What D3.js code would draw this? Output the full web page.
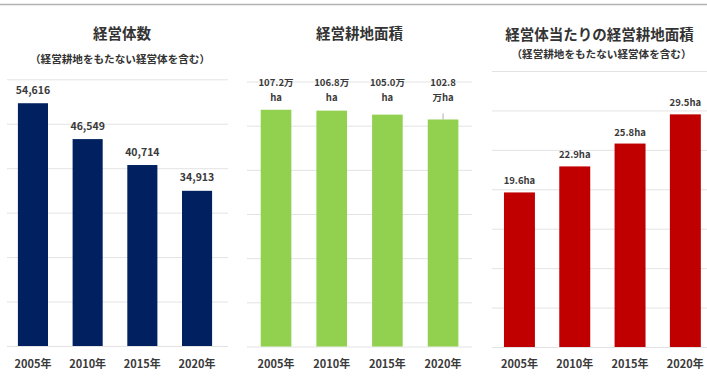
<!DOCTYPE html>
<html>
<head>
<meta charset="utf-8">
<script src="https://cdn.jsdelivr.net/npm/d3@7"></script>
<style>
html,body{margin:0;padding:0;background:#fff;}
svg{display:block;font-family:"Noto Sans CJK JP","Noto Sans",sans-serif;font-weight:bold;}
</style>
</head>
<body>
<svg id="c" width="707" height="378"></svg>
<script>
// ---- data ----
const years = ["2005年", "2010年", "2015年", "2020年"];
const farmCount = [54616, 46549, 40714, 34913];
const farmCountLabels = ["54,616", "46,549", "40,714", "34,913"];
const farmArea = [107.2, 106.8, 105.0, 102.8];
const farmAreaLabels = [["107.2万", "ha"], ["106.8万", "ha"], ["105.0万", "ha"], ["102.8", "万ha"]];
const areaPerFarm = [19.6, 22.9, 25.8, 29.5];
const areaPerFarmLabels = ["19.6ha", "22.9ha", "25.8ha", "29.5ha"];
const titles = ["経営体数", "経営耕地面積", "経営体当たりの経営耕地面積"];
const subtitle = "（経営耕地をもたない経営体を含む）";

const svg = d3.select("#c");
const textColor = "#3a3a3a";
const gridColor = "#e3e3e3";

// top rule
svg.append("line").attr("x1", 0).attr("x2", 707).attr("y1", 4.5).attr("y2", 4.5)
  .attr("stroke", "#b3b3b3").attr("stroke-width", 1.5);

function panel(cfg) {
  const g = svg.append("g");
  const x = d3.scaleBand().domain(years).range(cfg.xr).paddingInner(cfg.pad).paddingOuter(cfg.pad / 2);
  const y = d3.scaleLinear().domain([0, cfg.max]).range(cfg.yr);
  const ticks = d3.range(0, cfg.max + cfg.step / 2, cfg.step);
  // gridlines through an axis
  const ax = g.append("g").attr("transform", `translate(${cfg.gx[0]},0)`)
    .call(d3.axisLeft(y).tickValues(ticks).tickSize(-(cfg.gx[1] - cfg.gx[0])).tickFormat(""));
  ax.select(".domain").remove();
  ax.selectAll(".tick line").attr("stroke", gridColor).attr("stroke-width", 1);
  // bars
  g.selectAll("rect.bar").data(cfg.values).join("rect")
    .attr("x", (d, i) => x(years[i])).attr("width", x.bandwidth())
    .attr("y", d => y(d)).attr("height", d => y(0) - y(d))
    .attr("fill", cfg.color);
  // x labels
  g.selectAll("text.xl").data(years).join("text")
    .attr("x", d => x(d) + x.bandwidth() / 2).attr("y", cfg.xly)
    .attr("text-anchor", "middle").attr("dominant-baseline", "central")
    .attr("font-size", 11).attr("fill", textColor).text(d => d);
  // title
  g.append("text").attr("x", cfg.tx).attr("y", cfg.ty).attr("text-anchor", "middle")
    .attr("dominant-baseline", "central").attr("font-size", 14.5).attr("fill", "#333").text(cfg.title);
  if (cfg.sy) {
    g.append("text").attr("x", cfg.sx).attr("y", cfg.sy).attr("text-anchor", "middle")
      .attr("dominant-baseline", "central").attr("font-size", 10.6).attr("fill", "#333").text(subtitle);
  }
  return {g, x, y};
}

// left panel
const p1 = panel({xr: [5.6, 224.4], pad: 0.45, gx: [7, 228], max: 60000, step: 10000, yr: [346, 79.3],
  values: farmCount, color: "#002060", xly: 362.5, title: titles[0], tx: 122, ty: 32, sx: 120, sy: 58});
p1.g.selectAll("text.vl").data(farmCount).join("text")
  .attr("x", (d, i) => p1.x(years[i]) + p1.x.bandwidth() / 2).attr("y", d => p1.y(d) - 14)
  .attr("text-anchor", "middle").attr("dominant-baseline", "central")
  .attr("font-size", 10.5).attr("fill", textColor).text((d, i) => farmCountLabels[i]);

// middle panel
const p2 = panel({xr: [248.2, 470.9], pad: 0.45, gx: [247, 472], max: 120, step: 20, yr: [346.5, 81.5],
  values: farmArea, color: "#92D050", xly: 362.5, title: titles[1], tx: 359.5, ty: 32});
const lab2 = p2.g.selectAll("text.vl").data(farmArea).join("text")
  .attr("text-anchor", "middle").attr("font-size", 9.5).attr("fill", textColor);
lab2.each(function (d, i) {
  const cx = p2.x(years[i]) + p2.x.bandwidth() / 2;
  const t = d3.select(this);
  farmAreaLabels[i].forEach((s, k) => {
    t.append("tspan").attr("x", cx).attr("y", p2.y(120) + 4 + k * 15.5).text(s);
  });
});
// leader line for last label
p2.g.append("line")
  .attr("x1", p2.x(years[3]) + p2.x.bandwidth() / 2).attr("x2", p2.x(years[3]) + p2.x.bandwidth() / 2)
  .attr("y1", p2.y(farmArea[3]) - 6).attr("y2", p2.y(farmArea[3]))
  .attr("stroke", "#999").attr("stroke-width", 0.8);

// right panel
const p3 = panel({xr: [491.8, 713], pad: 0.44, gx: [492, 707], max: 35, step: 5, yr: [347, 71],
  values: areaPerFarm, color: "#C00000", xly: 363, title: titles[2], tx: 599.5, ty: 33, sx: 601.5, sy: 53});
p3.g.selectAll("text.vl").data(areaPerFarm).join("text")
  .attr("x", (d, i) => p3.x(years[i]) + p3.x.bandwidth() / 2).attr("y", d => p3.y(d) - 12)
  .attr("text-anchor", "middle").attr("dominant-baseline", "central")
  .attr("font-size", 9.5).attr("fill", textColor).text((d, i) => areaPerFarmLabels[i]);
</script>
</body>
</html>
